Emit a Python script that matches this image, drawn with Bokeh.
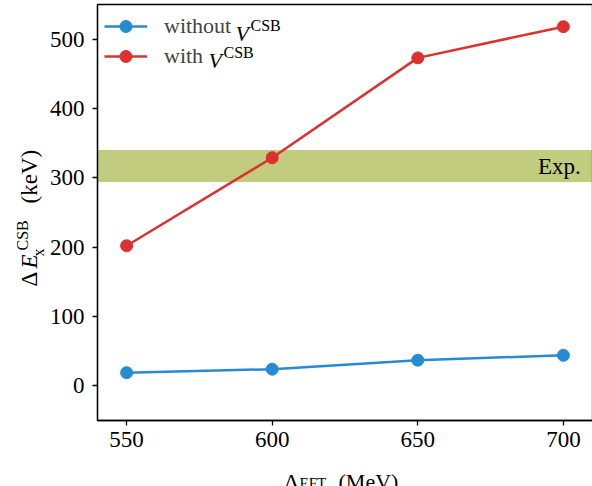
import math
from bokeh.plotting import figure
from bokeh.layouts import row, column
from bokeh.models import (FixedTicker, Legend, LegendItem, Label, BoxAnnotation, Range1d)
from bokeh.embed import file_html
from bokeh.resources import INLINE

# ---- data ----
lambda_eft = [550, 600, 650, 700]
without_csb = [19, 24, 37, 44]
with_csb = [202, 329, 473, 518]
exp_low = 294
exp_high = 340
x_ticks = [550, 600, 650, 700]
y_ticks = [0, 100, 200, 300, 400, 500]

BLUE = "#268bd2"
RED = "#dc322f"
BAND = "#859900"
FONT = "Liberation Serif"

X0, X1 = 540, 710
Y0, Y1 = -50, 550
YL_W = 46          # width of the y-label strip
FL, FT, FW, FH = 96, 4, 495, 416  # frame left/top on page, frame size
MAIN_H = 460
XL_H = 26


def dx(px):
    return X0 + (px - FL) * (X1 - X0) / FW


def dy(py):
    return Y1 - (py - FT) * (Y1 - Y0) / FH


p = figure(frame_width=FW, frame_height=FH, output_backend="svg", toolbar_location=None,
           x_range=Range1d(X0, X1), y_range=Range1d(Y0, Y1), title=None,
           min_border_left=FL - YL_W, min_border_right=1, min_border_top=FT,
           min_border_bottom=MAIN_H - FT - FH)
p.xgrid.visible = False
p.ygrid.visible = False
p.outline_line_color = "black"
p.outline_line_width = 1.3
p.background_fill_color = "white"
p.border_fill_color = "white"

for ax in (p.xaxis[0], p.yaxis[0]):
    ax.major_label_text_font = FONT
    ax.major_label_text_font_size = "23px"
    ax.major_label_text_color = "black"
    ax.major_tick_out = 5
    ax.major_tick_in = 0
    ax.minor_tick_out = 0
    ax.minor_tick_in = 0
    ax.axis_line_color = "black"
    ax.axis_line_width = 1.3
    ax.major_tick_line_width = 1.3
    ax.major_tick_line_color = "black"
p.xaxis[0].ticker = FixedTicker(ticks=x_ticks)
p.yaxis[0].ticker = FixedTicker(ticks=y_ticks)
p.xaxis[0].major_label_standoff = 6
p.yaxis[0].major_label_standoff = 8

band = BoxAnnotation(bottom=exp_low, top=exp_high, fill_color=BAND, fill_alpha=0.5,
                     line_alpha=0, level="underlay")
p.add_layout(band)

lb = p.line(lambda_eft, without_csb, line_color=BLUE, line_width=2.5)
sb = p.scatter(lambda_eft, without_csb, size=12, fill_color=BLUE, line_color=BLUE)
lr = p.line(lambda_eft, with_csb, line_color=RED, line_width=2.5)
sr = p.scatter(lambda_eft, with_csb, size=12, fill_color=RED, line_color=RED)

legend = Legend(items=[LegendItem(label="without", renderers=[lb, sb]),
                       LegendItem(label="with", renderers=[lr, sr])],
                location="top_left", border_line_alpha=0, background_fill_alpha=0,
                label_text_font=FONT, label_text_font_size="22px",
                glyph_width=43, glyph_height=30, label_height=30, spacing=-3,
                label_standoff=17, padding=5, margin=2)
p.add_layout(legend)


def lab(fig, x, y, text, size="23px", style="normal", angle=0.0, align="left",
        baseline="alphabetic"):
    fig.add_layout(Label(x=x, y=y, text=text, text_font=FONT,
                         text_font_size=size, text_font_style=style, angle=angle,
                         text_align=align, text_baseline=baseline, text_color="black"))


# legend superscripts (inside the frame)
lab(p, dx(234), dy(33), "V", "22px", "italic")
lab(p, dx(249), dy(25), "CSB", "16px")
lab(p, dx(207), dy(60), "V", "22px", "italic")
lab(p, dx(222), dy(52), "CSB", "16px")

# Exp. label
p.add_layout(Label(x=706, y=(exp_low + exp_high) / 2, text="Exp.", text_font=FONT,
                   text_font_size="23px", text_align="right", text_baseline="middle",
                   text_color="black"))


def strip(w, h):
    f = figure(frame_width=w, frame_height=h,
               output_backend="svg", toolbar_location=None,
               x_range=Range1d(0, w), y_range=Range1d(0, h), title=None,
               min_border=0, min_border_left=0, min_border_right=0,
               min_border_top=0, min_border_bottom=0,
               x_axis_type=None, y_axis_type=None)
    f.xgrid.visible = False
    f.ygrid.visible = False
    f.outline_line_color = None
    f.background_fill_color = "white"
    f.border_fill_color = "white"
    return f


# y axis label strip: its frame is aligned with the main frame (page y FT..FT+FH)
yl = strip(YL_W, FH)
A = math.pi / 2


def yy(py):
    return FT + FH - py


lab(yl, 29, yy(286), "Δ", "23px", angle=A)
lab(yl, 29, yy(268), "E", "23px", "italic", angle=A)
lab(yl, 38, yy(256), "x", "16px", angle=A)
lab(yl, 22, yy(250), "CSB", "16px", angle=A)
lab(yl, 29, yy(203), "(keV)", "23px", angle=A)

# x axis label strip (local y = XL_H - (page y - MAIN_H))
xl = strip(FL + FW + 1, XL_H)


def ly(py):
    return XL_H - (py - MAIN_H)


lab(xl, 283, ly(480.5), "Λ", "22px")
lab(xl, 299, ly(482), "EFT", "15px")
lab(xl, 338, ly(480.5), "(MeV)", "22px")

layout = column(row(yl, p, spacing=0), xl, spacing=0)

open("out.html", "w").write(file_html(layout, INLINE))
